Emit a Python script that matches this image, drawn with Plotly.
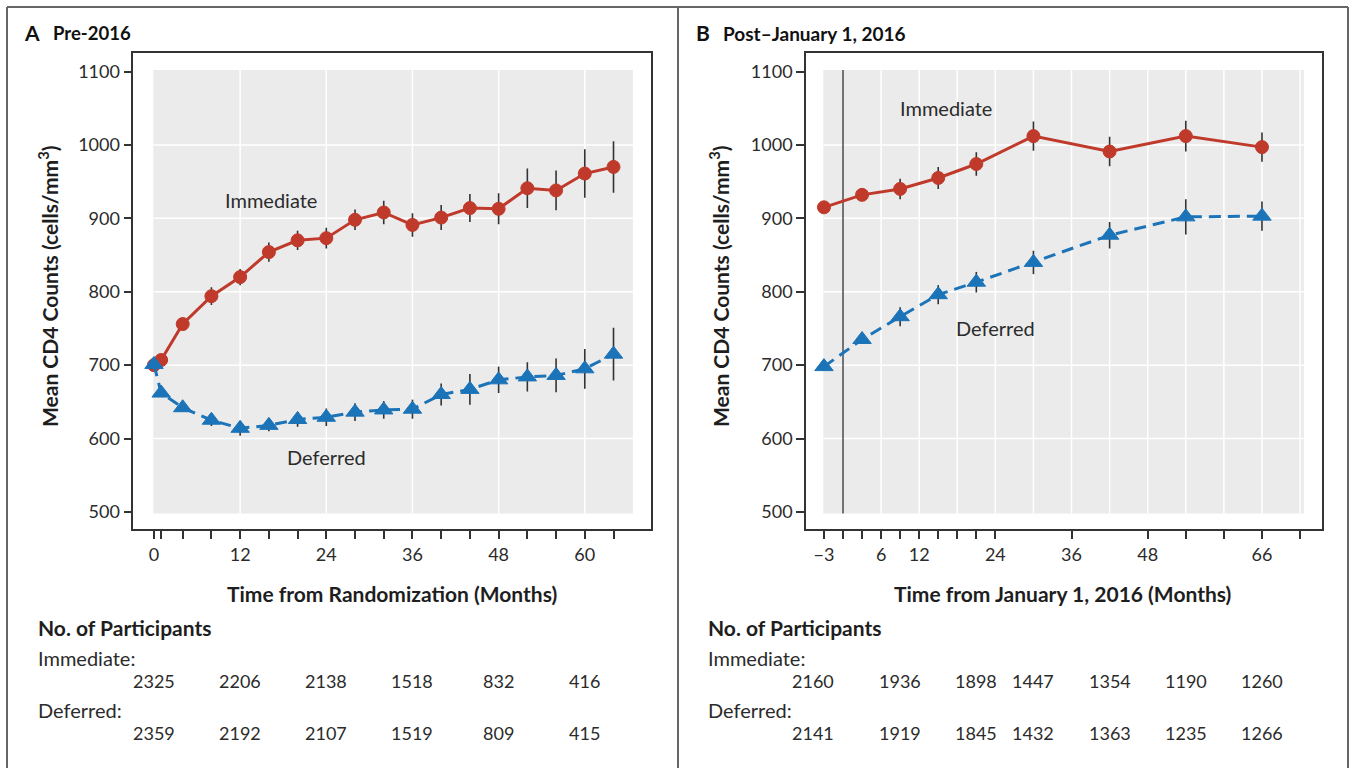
import plotly.graph_objects as go

W, H = 1353, 768

# ---------------- data ----------------
# Panel A: Pre-2016 (months from randomization)
months_A = [0, 1, 4, 8, 12, 16, 20, 24, 28, 32, 36, 40, 44, 48, 52, 56, 60, 64]
immediate_A = [700, 707, 756, 794, 820, 854, 870, 873, 898, 908, 891, 901, 914, 913, 941, 938, 961, 970]
immediate_A_err = [3, 4, 8, 12, 11, 13, 13, 14, 14, 16, 16, 17, 19, 21, 27, 27, 33, 35]
deferred_A = [701, 662, 642, 625, 614, 618, 626, 629, 636, 639, 640, 660, 667, 680, 684, 686, 695, 715]
deferred_A_err = [3, 4, 5, 8, 10, 8, 10, 12, 12, 12, 13, 15, 21, 18, 20, 23, 27, 36]

# Panel B: Post-January 1, 2016 (months from Jan 1, 2016)
months_B = [-3, 3, 9, 15, 21, 30, 42, 54, 66]
immediate_B = [915, 932, 940, 955, 974, 1012, 991, 1012, 997]
immediate_B_err = [4, 7, 14, 15, 16, 20, 20, 21, 20]
deferred_B = [698, 735, 766, 796, 813, 840, 877, 902, 903]
deferred_B_err = [4, 6, 13, 13, 14, 16, 18, 24, 20]

# Axis ticks (labelled major ticks + unlabelled minor tick marks)
ticks_A = [0, 12, 24, 36, 48, 60]
ticklabels_A = ["0", "12", "24", "36", "48", "60"]
minor_ticks_A = [1, 4, 8, 16, 20, 28, 32, 40, 44, 52, 56, 64]
ticks_B = [-3, 6, 12, 24, 36, 48, 66]
ticklabels_B = ["\u22123", "6", "12", "24", "36", "48", "66"]
minor_ticks_B = [0, 3, 9, 15, 18, 21, 54, 60, 72]
y_ticks = [500, 600, 700, 800, 900, 1000, 1100]

# Number at risk tables
table_months_A = [0, 12, 24, 36, 48, 60]
n_immediate_A = ["2325", "2206", "2138", "1518", "832", "416"]
n_deferred_A = ["2359", "2192", "2107", "1519", "809", "415"]
table_months_B = [-3, 9, 21, 30, 42, 54, 66]
n_immediate_B = ["2160", "1936", "1898", "1447", "1354", "1190", "1260"]
n_deferred_B = ["2141", "1919", "1845", "1432", "1363", "1235", "1266"]

# ---------------- styling ----------------
RED = "#C03A2B"
BLUE = "#1B73B8"
DARK = "#333333"
TEXT = "#2b2b2b"
PANEL_BG = "#EBEBEB"
FONT = "Lato"


def px(x):
    return x / W


def py(y):
    return 1 - y / H


fig = go.Figure()

def add_series(xs, ys, errs, color, symbol, size, dash, xa, ya, name):
    fig.add_trace(go.Scatter(
        x=xs, y=ys, mode="lines+markers", name=name,
        xaxis=xa, yaxis=ya,
        line=dict(color=color, width=3, dash=dash),
        marker=dict(color=color, symbol=symbol, size=size,
                    line=dict(color=color, width=1)),
        error_y=dict(type="data", array=errs, visible=True,
                     color=DARK, thickness=1.6, width=0),
        showlegend=False,
    ))

add_series(months_A, immediate_A, immediate_A_err, RED, "circle", 13, "solid", "x", "y", "Immediate")
add_series(months_A, deferred_A, deferred_A_err, BLUE, "triangle-up", 16, "12px,7px", "x", "y", "Deferred")
add_series(months_B, immediate_B, immediate_B_err, RED, "circle", 13, "solid", "x2", "y2", "Immediate")
add_series(months_B, deferred_B, deferred_B_err, BLUE, "triangle-up", 16, "12px,7px", "x2", "y2", "Deferred")

tickfont = dict(family=FONT, size=18, color=TEXT)

def xaxis_cfg(domain, rng, tv, tt, mv):
    return dict(domain=domain, range=rng, tickmode="array", tickvals=tv, ticktext=tt,
                showline=True, mirror=True, linecolor=DARK, linewidth=1.6,
                ticks="outside", ticklen=8, tickwidth=1.5, tickcolor=DARK,
                minor=dict(tickmode="array", tickvals=mv, ticks="outside", ticklen=8,
                           tickwidth=1.5, tickcolor=DARK, showgrid=False),
                showgrid=False, zeroline=False, tickfont=tickfont, fixedrange=True)

def yaxis_cfg(anchor):
    return dict(domain=[py(529.3), py(53.3)], range=[476.4, 1124.8], anchor=anchor,
                tickmode="array", tickvals=y_ticks,
                showline=True, mirror=True, linecolor=DARK, linewidth=1.6,
                ticks="outside", ticklen=8, tickwidth=1.5, tickcolor=DARK,
                showgrid=False, zeroline=False, tickfont=tickfont, fixedrange=True)

fig.update_layout(
    width=W, height=H, margin=dict(l=0, r=0, t=0, b=0),
    paper_bgcolor="white", plot_bgcolor="white",
    xaxis=dict(**xaxis_cfg([px(133.3), px(650.7)], [-2.88, 69.18], ticks_A, ticklabels_A, minor_ticks_A), anchor="y"),
    yaxis=yaxis_cfg("x"),
    xaxis2=dict(**xaxis_cfg([px(806), px(1321.7)], [-5.83, 75.41], ticks_B, ticklabels_B, minor_ticks_B), anchor="y2"),
    yaxis2=yaxis_cfg("x2"),
)

shapes = []
# gray panels
shapes.append(dict(type="rect", xref="x", yref="y", x0=-0.1, x1=66.7, y0=498, y1=1102,
                   fillcolor=PANEL_BG, line=dict(width=0), layer="below"))
shapes.append(dict(type="rect", xref="x2", yref="y2", x0=-3.1, x1=72.6, y0=498, y1=1102,
                   fillcolor=PANEL_BG, line=dict(width=0), layer="below"))
grid_y = [600, 700, 800, 900, 1000]
grid_x_A = [12, 24, 36, 48, 60]
grid_x_B = [6, 12, 18, 24, 30, 36, 42, 48, 54, 60, 66, 72]
for gy in grid_y:
    shapes.append(dict(type="line", xref="x", yref="y", x0=-0.1, x1=66.7, y0=gy, y1=gy,
                       line=dict(color="white", width=1.5), layer="below"))
    shapes.append(dict(type="line", xref="x2", yref="y2", x0=-3.1, x1=72.6, y0=gy, y1=gy,
                       line=dict(color="white", width=1.5), layer="below"))
for gx in grid_x_A:
    shapes.append(dict(type="line", xref="x", yref="y", x0=gx, x1=gx, y0=498, y1=1102,
                       line=dict(color="white", width=1.5), layer="below"))
for gx in grid_x_B:
    shapes.append(dict(type="line", xref="x2", yref="y2", x0=gx, x1=gx, y0=498, y1=1102,
                       line=dict(color="white", width=1.5), layer="below"))
# reference line at January 1, 2016
shapes.append(dict(type="line", xref="x2", yref="y2", x0=0, x1=0, y0=498, y1=1102,
                   line=dict(color=DARK, width=1.3), layer="below"))
# outer panel frames
FR = dict(color="#666666", width=2)
shapes.append(dict(type="line", xref="paper", yref="paper", x0=px(7), x1=px(1348), y0=py(7), y1=py(7), line=FR))
shapes.append(dict(type="line", xref="paper", yref="paper", x0=px(7), x1=px(7), y0=py(7), y1=py(780), line=FR))
shapes.append(dict(type="line", xref="paper", yref="paper", x0=px(678), x1=px(678), y0=py(7), y1=py(780), line=FR))
shapes.append(dict(type="line", xref="paper", yref="paper", x0=px(1348), x1=px(1348), y0=py(7), y1=py(780), line=FR))
fig.update_layout(shapes=shapes)

ann = []

def text(x, y, s, size=18, bold=False, xanchor="center", xref="paper", yref="paper", angle=0, color=TEXT, xshift=0):
    ann.append(dict(x=x, y=y, xref=xref, yref=yref, text=(f"<b>{s}</b>" if bold else s),
                    showarrow=False, xanchor=xanchor, yanchor="middle", textangle=angle, xshift=xshift,
                    font=dict(family=FONT, size=size, color=color)))

# panel titles
text(px(22), py(32.5), "A", size=21, bold=True, xanchor="left", color="#111")
text(px(51), py(33), "Pre-2016", size=18.5, bold=True, xanchor="left", color="#111")
text(px(694), py(32.5), "B", size=21, bold=True, xanchor="left", color="#111")
text(px(721), py(33), "Post\u2013January 1, 2016", size=19, bold=True, xanchor="left", color="#111")

# axis titles
text(px(48), py(286), "Mean CD4 Counts (cells/mm<sup>3</sup>)", size=21, bold=True, angle=-90, color="#1e1e1e")
text(px(719), py(286), "Mean CD4 Counts (cells/mm<sup>3</sup>)", size=21, bold=True, angle=-90, color="#1e1e1e")
text(px(392), py(593), "Time from Randomization (Months)", size=21, bold=True, color="#1e1e1e")
text(px(1062), py(593), "Time from January 1, 2016 (Months)", size=21, bold=True, color="#1e1e1e")

# series labels
text(16.3, 925, "Immediate", size=20, xref="x", yref="y")
text(24.0, 575, "Deferred", size=20, xref="x", yref="y")
text(16.3, 1050, "Immediate", size=20, xref="x2", yref="y2")
text(24.0, 750, "Deferred", size=20, xref="x2", yref="y2")

# number of participants tables
for x0 in (36, 706):
    text(px(x0), py(627), "No. of Participants", size=21, bold=True, xanchor="left", color="#1e1e1e")
    text(px(x0), py(658), "Immediate:", size=20, xanchor="left")
    text(px(x0), py(710), "Deferred:", size=20, xanchor="left")

for m, ni, nd in zip(table_months_A, n_immediate_A, n_deferred_A):
    text(m, py(681), ni, size=18, xref="x")
    text(m, py(733), nd, size=18, xref="x")
for i, (m, ni, nd) in enumerate(zip(table_months_B, n_immediate_B, n_deferred_B)):
    sh = -11 if i == 0 else 0
    text(m, py(681), ni, size=18, xref="x2", xshift=sh)
    text(m, py(733), nd, size=18, xref="x2", xshift=sh)

fig.update_layout(annotations=ann)

fig.write_html("out.html")
